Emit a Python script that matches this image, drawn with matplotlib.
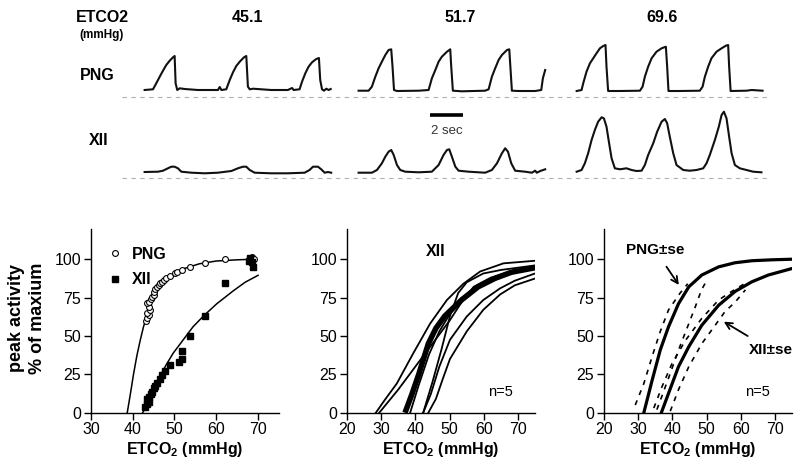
import matplotlib
matplotlib.use("Agg")
import matplotlib.pyplot as plt
import numpy as np

plt.rcParams['font.family'] = ['Liberation Sans', 'DejaVu Sans']
plt.rcParams['mathtext.fontset'] = 'custom'
plt.rcParams['mathtext.rm'] = 'Liberation Sans'
plt.rcParams['mathtext.bf'] = 'Liberation Sans:bold'

# ---- top: raw traces (time in s, amplitude in a.u.) ----
etco2_levels = ['45.1', '51.7', '69.6']

png_45_t = [1.38, 1.89, 2.09, 2.30, 2.50, 2.70, 2.91, 3.11, 3.21, 3.27, 3.37, 3.52, 3.82, 4.63, 5.85, 5.96, 6.06,
            6.36, 6.57, 6.77, 6.97, 7.18, 7.44, 7.58, 7.68, 7.79, 7.99, 9.10, 10.12, 10.37, 10.47, 10.83, 10.98,
            11.18, 11.38, 11.59, 11.85, 12.01, 12.09, 12.20, 12.32, 12.46, 12.60, 12.73]
png_45_a = [6.7, 7.4, 13.4, 20.0, 26.0, 31.7, 36.0, 39.4, 40.7, 13.4, 6.7, 8.4, 7.7, 6.7, 6.7, 9.7, 6.7,
            7.4, 16.7, 24.4, 30.7, 35.0, 39.4, 40.7, 10.0, 7.4, 8.0, 6.7, 6.7, 8.7, 6.7, 7.4, 15.0,
            23.4, 30.0, 34.4, 37.7, 38.7, 16.7, 7.4, 6.0, 8.0, 6.7, 7.7]
xii_45_t = [1.38, 2.20, 2.50, 2.80, 3.01, 3.21, 3.41, 3.62, 4.23, 5.04, 5.85, 6.67, 7.07, 7.38, 7.58, 7.79, 8.09,
            9.10, 10.12, 11.14, 11.44, 11.65, 11.95, 12.15, 12.36, 12.56, 12.76]
xii_45_a = [5.7, 6.0, 7.0, 9.4, 11.0, 11.0, 9.4, 6.0, 5.0, 4.4, 5.0, 6.7, 9.4, 11.0, 11.0, 7.7, 5.0,
            4.4, 4.4, 5.0, 7.7, 11.0, 11.0, 8.4, 5.0, 5.7, 5.0]

png_52_t = [14.43, 15.04, 15.24, 15.45, 15.65, 15.85, 16.06, 16.26, 16.42, 16.50, 16.59, 16.77, 18.09, 18.70,
            18.90, 19.11, 19.31, 19.51, 19.82, 20.02, 20.08, 20.18, 20.73, 22.15, 22.36, 22.56, 22.76, 22.97,
            23.17, 23.48, 23.62, 23.70, 23.78, 24.19, 25.20, 25.57, 25.67, 25.81]
png_52_a = [6.0, 6.0, 10.0, 20.0, 28.4, 35.0, 41.7, 46.7, 47.4, 30.0, 6.7, 5.7, 6.0, 6.7,
            18.4, 26.7, 35.0, 40.0, 45.0, 47.4, 30.0, 6.0, 5.4, 6.0, 7.4, 20.0, 28.4, 36.7,
            41.7, 46.7, 47.4, 26.7, 6.0, 5.7, 5.7, 6.7, 18.4, 26.7]
xii_52_t = [14.43, 15.24, 15.55, 15.85, 16.06, 16.26, 16.42, 16.57, 16.77, 16.97, 17.28, 18.09, 18.90, 19.31,
            19.61, 19.82, 19.96, 20.12, 20.33, 20.53, 21.14, 22.15, 22.56, 22.87, 23.17, 23.37, 23.54, 23.74,
            23.98, 24.59, 25.00, 25.20, 25.30, 25.51, 25.81]
xii_52_a = [5.0, 5.0, 7.7, 14.4, 21.0, 26.0, 27.7, 22.7, 12.7, 7.7, 6.0, 5.4, 6.0, 12.7,
            22.7, 27.7, 28.4, 21.0, 11.0, 7.0, 6.0, 5.0, 7.7, 14.4, 24.4, 29.4, 26.0, 14.4,
            7.0, 6.0, 5.0, 7.0, 5.0, 6.7, 8.4]

png_70_t = [27.73, 28.03, 28.13, 28.33, 28.54, 28.74, 28.94, 29.15, 29.35, 29.49, 29.55, 29.65, 30.37, 31.59,
            31.75, 31.89, 32.09, 32.30, 32.60, 32.91, 33.17, 33.25, 33.33, 34.02, 35.24, 35.41, 35.55, 35.75,
            35.95, 36.26, 36.57, 36.83, 36.97, 37.03, 37.12, 38.09, 38.40, 39.07]
png_70_a = [5.7, 6.7, 13.4, 25.0, 33.4, 38.4, 43.4, 48.4, 50.7, 51.7, 30.0, 5.7, 5.7, 6.0,
            10.0, 20.0, 30.0, 38.4, 45.0, 48.4, 50.0, 30.0, 5.7, 5.7, 6.0, 10.0, 20.0, 30.0,
            38.4, 45.0, 48.4, 51.0, 51.7, 30.0, 5.7, 6.0, 6.7, 6.0]
xii_70_t = [27.73, 28.03, 28.23, 28.43, 28.64, 28.84, 29.04, 29.25, 29.39, 29.55, 29.71, 29.86, 30.06, 30.37,
            30.77, 31.08, 31.38, 31.69, 31.89, 32.09, 32.40, 32.64, 32.91, 33.11, 33.25, 33.41, 33.62, 33.82,
            34.23, 34.63, 35.04, 35.45, 35.65, 35.85, 36.16, 36.40, 36.57, 36.71, 36.87, 37.03, 37.18, 37.38,
            37.68, 38.09, 38.49, 39.00]
xii_70_a = [6.0, 7.7, 14.4, 24.4, 37.7, 47.7, 56.0, 60.4, 59.4, 51.0, 34.4, 19.4, 9.4, 8.4,
            9.4, 7.7, 6.7, 7.0, 12.7, 22.7, 34.4, 46.0, 56.0, 58.7, 54.4, 41.0, 24.4, 12.7,
            7.7, 7.0, 7.7, 9.4, 14.4, 22.7, 37.7, 51.0, 62.7, 66.0, 59.4, 41.0, 24.4, 12.7,
            9.4, 7.7, 6.0, 5.4]

png_offset = 81
scalebar_t = [18.80, 20.79]

# ---- bottom left: one experiment ----
png_x = [43.2, 43.5, 44.0, 43.4, 44.2, 43.8, 43.5, 44.0, 44.3, 44.6, 45.0, 45.1, 45.4, 45.8, 46.2, 46.6, 47.0,
         47.4, 48.0, 49.0, 50.2, 50.7, 51.8, 53.8, 57.4, 62.2, 68.2, 68.6, 69.0]
png_y = [59.7, 61.5, 63.6, 64.7, 66.9, 69.1, 71.2, 72.3, 73.8, 75.1, 76.7, 78.8, 80.3, 82.1, 83.2, 84.7, 85.3,
         86.4, 87.5, 89.0, 90.8, 91.4, 92.9, 94.7, 97.3, 99.9, 100.5, 101.6, 99.9]
xii_x = [43.0, 43.4, 43.8, 43.5, 44.0, 44.3, 44.6, 45.0, 45.4, 45.8, 46.6, 47.0, 47.8, 49.0, 51.0, 51.8, 51.8,
         53.8, 57.4, 62.2, 68.2, 68.6, 68.8, 67.8]
xii_y = [3.9, 5.6, 7.2, 8.7, 10.4, 12.2, 13.7, 15.9, 17.4, 19.1, 21.7, 24.5, 27.4, 31.1, 33.2, 34.7, 40.2,
         50.2, 63.0, 84.7, 100.5, 98.4, 95.1, 99.0]
png_fit_x = [38.7, 39.5, 40.2, 41.0, 41.8, 42.6, 43.5, 44.5, 45.8, 47.5, 49.8, 52.5, 56, 60, 65, 69.5]
png_fit_y = [0, 13, 25, 37, 47, 56, 64, 72, 79, 85, 90.5, 94, 97, 98.8, 99.6, 100]
xii_fit_x = [42.4, 44, 46.2, 48, 49.7, 52, 54.5, 57, 60.2, 64.2, 67, 70.1]
xii_fit_y = [0, 8, 22, 31, 38.7, 47, 56, 63, 71, 79.5, 85, 89.5]

# ---- bottom middle: XII fits, n=5 ----
xii_ind_x = [
    [28.5, 31, 34.6, 39.4, 44.3, 49.2, 54, 58.9, 65.7, 75],
    [29.5, 35, 40, 45, 50, 53.5, 57, 62, 68, 75],
    [38.5, 41, 44, 47, 50, 55, 60, 65, 70, 75],
    [42.3, 45, 47.6, 50.1, 52.5, 55, 59.8, 65, 75],
    [43.8, 46, 48, 50.1, 55, 59.8, 64.7, 69, 75],
    [42.3, 44.5, 47, 50.1, 55, 59.8, 64.7, 69, 75],
]
xii_ind_y = [
    [0, 8, 19, 38.7, 58, 73.4, 84, 92, 97.3, 99],
    [0, 15, 30, 45, 60, 72, 82, 88, 92, 95],
    [0, 18, 38, 53, 64, 77, 85, 90, 93, 95],
    [0, 20, 41, 63, 78, 85, 90.7, 93, 96],
    [0, 9, 22, 35, 53, 67, 77, 83, 87.5],
    [0, 12, 30, 47.5, 62.7, 73.4, 81, 86, 90.8],
]
xii_mean_x = [37, 39, 41, 43.8, 46, 48.6, 53.5, 58.3, 63.2, 68, 75]
xii_mean_y = [0, 12, 25, 45, 55, 63, 73.5, 82, 87.5, 91.5, 94.5]

# ---- bottom right: means +/- se ----
png_m_x = [31.7, 34.1, 36.5, 38.9, 41.8, 44.8, 48.6, 53.5, 58.3, 63.2, 69, 75]
png_m_y = [0, 21, 41, 56, 71, 82, 89.7, 95, 97.7, 99, 99.6, 100]
png_lo_x = [35.5, 36.5, 39.4, 41.8, 44.8, 46.7, 48.5, 50]
png_lo_y = [2, 8, 25.6, 40.8, 58, 69, 80, 86]
png_hi_x = [29.2, 31.7, 34.1, 36.5, 38.9, 42.3, 44.5]
png_hi_y = [5, 19, 36.5, 53, 67, 78, 84]
xii_m_x = [36.8, 38.9, 41.8, 44.8, 48.6, 53.5, 58.3, 63.2, 68, 75]
xii_m_y = [0, 12.6, 30, 43, 57, 70, 79, 85.3, 89.7, 94]
xii_hi_x = [34.6, 37, 39.9, 43.8, 48.6, 53.5, 56.4, 58.8, 61]
xii_hi_y = [3, 17, 32, 47, 61.5, 73.4, 77.7, 81, 84]
xii_lo_x = [39.4, 41.8, 44.8, 48.6, 52.5, 55.4, 58.3, 61.3]
xii_lo_y = [1, 15, 30, 45, 57, 66, 72, 80]

W, H = 800, 476
fig = plt.figure(figsize=(W / 100, H / 100), dpi=100)


def fx(px):
    return px / W


def fy(py):
    return 1 - py / H


# top traces
ax = fig.add_axes([fx(122), fy(182), fx(646), 142 / H])
ax.set_xlim(0, 39.4)
ax.set_ylim(-4.3, 137.7)
ax.axis('off')
dash = (0, (4, 4))
ax.axhline(png_offset, color='#b0b0b0', ls=dash, lw=0.8)
ax.axhline(0, color='#b0b0b0', ls=dash, lw=0.8)
for t, a in [(png_45_t, png_45_a), (png_52_t, png_52_a), (png_70_t, png_70_a)]:
    ax.plot(t, np.array(a) + png_offset, color='#111111', lw=1.5)
for t, a in [(xii_45_t, xii_45_a), (xii_52_t, xii_52_a), (xii_70_t, xii_70_a)]:
    ax.plot(t, a, color='#111111', lw=1.5)
ax.plot(scalebar_t, [63, 63], color='k', lw=2.6, solid_capstyle='butt')
ax.text(np.mean(scalebar_t), 47, '2 sec', ha='center', va='center', fontsize=9.5, color='#333333')

fig.text(fx(102), fy(17), 'ETCO2', ha='center', va='center', fontsize=11.5, fontweight='bold')
fig.text(fx(102), fy(35), '(mmHg)', ha='center', va='center', fontsize=8.5, fontweight='bold')
for xc, lab in zip([247, 460, 662], etco2_levels):
    fig.text(fx(xc), fy(17), lab, ha='center', va='center', fontsize=11.5, fontweight='bold')
fig.text(fx(97), fy(75), 'PNG', ha='center', va='center', fontsize=11.5, fontweight='bold')
fig.text(fx(99), fy(140), 'XII', ha='center', va='center', fontsize=11.5, fontweight='bold')

# bottom panels
xlab = r'ETCO$_{\mathbf{2}}$ (mmHg)'


def style(a, xmin, xticks):
    a.set_xlim(xmin, 75)
    a.set_ylim(0, 120)
    a.set_xticks(xticks)
    a.set_yticks([0, 25, 50, 75, 100])
    for s in ['top', 'right']:
        a.spines[s].set_visible(False)
    for s in ['left', 'bottom']:
        a.spines[s].set_linewidth(1.0)
    a.tick_params(direction='out', length=5, width=1.0, labelsize=11.5, pad=2)
    a.set_xlabel(xlab, fontsize=11.5, fontweight='bold', labelpad=2)
    a.patch.set_alpha(0)


ax1 = fig.add_axes([fx(91), fy(412.7), fx(187.5), 184.2 / H])
style(ax1, 30, [30, 40, 50, 60, 70])
ax1.plot(png_fit_x, png_fit_y, color='k', lw=1.1)
ax1.plot(xii_fit_x, xii_fit_y, color='k', lw=1.1)
ax1.plot(png_x, png_y, 'o', mfc='white', mec='k', mew=0.8, ms=4.2, label='PNG', clip_on=False)
ax1.plot(xii_x, xii_y, 's', color='k', ms=4.6, label='XII', clip_on=False)
leg = ax1.legend(loc='upper left', bbox_to_anchor=(0.05, 0.935), frameon=False, handlelength=1.0,
                 handletextpad=0.6, labelspacing=0.65, borderaxespad=0,
                 prop={'weight': 'bold', 'size': 11.5})

fig.text(fx(17), fy(318), 'peak activity', rotation=90, ha='center', va='center', fontsize=13,
         fontweight='bold')
fig.text(fx(37), fy(318), '% of maxium', rotation=90, ha='center', va='center', fontsize=13,
         fontweight='bold')

ax2 = fig.add_axes([fx(346.7), fy(412.7), fx(188.7), 184.2 / H])
style(ax2, 20, [20, 30, 40, 50, 60, 70])
for xs, ys in zip(xii_ind_x, xii_ind_y):
    ax2.plot(xs, ys, color='k', lw=1.3)
ax2.plot(xii_mean_x, xii_mean_y, color='k', lw=4.0, solid_capstyle='butt')
ax2.text(46, 105, 'XII', ha='center', va='center', fontsize=11.5, fontweight='bold')
ax2.text(64.7, 13.5, 'n=5', ha='center', va='center', fontsize=10.5)

ax3 = fig.add_axes([fx(603.7), fy(412.7), fx(188.7), 184.2 / H])
style(ax3, 20, [20, 30, 40, 50, 60, 70])
sd = (0, (3, 3.5))
ax3.plot(png_m_x, png_m_y, color='k', lw=2.3)
ax3.plot(xii_m_x, xii_m_y, color='k', lw=2.3)
for xs, ys in [(png_lo_x, png_lo_y), (png_hi_x, png_hi_y), (xii_lo_x, xii_lo_y), (xii_hi_x, xii_hi_y)]:
    ax3.plot(xs, ys, color='k', lw=1.2, ls=sd)
ax3.annotate('PNG±se', xy=(41.9, 83.2), xytext=(35, 106), ha='center', va='center', fontsize=11,
             fontweight='bold', arrowprops=dict(arrowstyle='->', color='k', lw=1.3, shrinkA=6, shrinkB=0,
                                                mutation_scale=12))
ax3.annotate('XII±se', xy=(55, 59.3), xytext=(68.8, 40.8), ha='center', va='center', fontsize=11,
             fontweight='bold', arrowprops=dict(arrowstyle='->', color='k', lw=1.3, shrinkA=6, shrinkB=0,
                                                mutation_scale=12))
ax3.text(64.7, 13.5, 'n=5', ha='center', va='center', fontsize=10.5)

fig.savefig('out.png', dpi=100)
